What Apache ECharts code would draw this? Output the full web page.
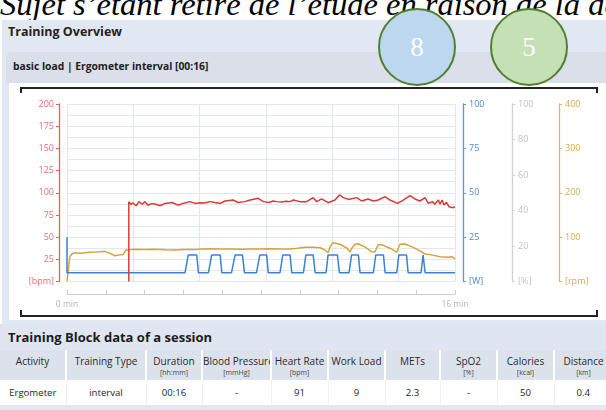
<!DOCTYPE html>
<html>
<head>
<meta charset="utf-8">
<script src="https://cdn.jsdelivr.net/npm/echarts@6/dist/echarts.min.js"></script>
<style>
  html, body { margin: 0; padding: 0; }
  body { width: 606px; height: 410px; overflow: hidden; position: relative; background: #ffffff; font-family: "Open Sans", "Noto Sans", sans-serif; color: #222; }
  .abs { position: absolute; }
  #caption { left: 0; top: -12px; font-family: "Liberation Serif", serif; font-style: italic; font-size: 32.5px; line-height: 32px; white-space: nowrap; color: #000; }
  #panel { left: 2px; top: 20px; width: 604px; height: 304px; background: #e2e8f3; }
  #panelTitle { left: 8px; top: 23px; font-size: 12.5px; font-weight: bold; color: #222; line-height: 18px; }
  #subPanel { left: 6px; top: 52px; width: 600px; height: 32px; background: #dadfe9; border-top-left-radius: 6px; }
  #subTitle { left: 13px; top: 59px; font-size: 10.3px; font-weight: bold; color: #222; line-height: 15px; }
  #chartBox { left: 9px; top: 83px; width: 597px; height: 237px; background: #ffffff; }
  .bracket { position: absolute; background: #222; }
  #chart { left: 0; top: 0; width: 606px; height: 410px; z-index: 3; pointer-events: none; }
  .circle { position: absolute; width: 78px; height: 78px; border-radius: 50%; border: 2px solid #4f7f31; box-sizing: border-box; color: #ffffff; font-family: "Liberation Serif", serif; font-size: 27px; display: flex; align-items: center; justify-content: center; z-index: 4; }
  #blockTitle { left: 0; top: 324px; width: 606px; height: 26px; background: #dfe6f1; }
  #blockTitle span { position: absolute; left: 8px; top: 4px; font-size: 13px; font-weight: bold; color: #1c1c1c; line-height: 18px; }
  #tbl { left: 0; top: 350px; border-collapse: collapse; table-layout: fixed; font-size: 10px; }
  #tbl td { padding: 0; text-align: center; white-space: nowrap; overflow: hidden; }
  #tbl tr.head td { background: #dce2ec; height: 30px; border-left: 2px solid #ffffff; vertical-align: top; color: #2a2a2a; }
  #tbl tr.head td:first-child { border-left: none; }
  #tbl tr.head .name { display: block; margin-top: 5px; line-height: 13px; }
  #tbl tr.head .unit { display: block; font-size: 7px; line-height: 10px; color: #444; }
  #tbl tr.data td { background: #ffffff; height: 25px; border-left: 1px solid #eef1f6; color: #1e1e1e; font-size: 9.6px; }
  #tbl tr.data td:first-child { border-left: none; }
  #bottomBand { left: 0; top: 405px; width: 606px; height: 5px; background: #e2e8f3; }
</style>
</head>
<body>
<div id="caption" class="abs">Sujet s’étant retiré de l’étude en raison de la de</div>
<div id="panel" class="abs"></div>
<div id="panelTitle" class="abs">Training Overview</div>
<div id="subPanel" class="abs"></div>
<div id="subTitle" class="abs">basic load | Ergometer interval [00:16]</div>
<div id="chartBox" class="abs">
  <div class="bracket" style="left:11px; top:4px; width:578px; height:2px;"></div>
  <div class="bracket" style="left:11px; top:4px; width:2px; height:6px;"></div>
  <div class="bracket" style="left:587px; top:4px; width:2px; height:6px;"></div>
  <div class="bracket" style="left:11px; top:232px; width:578px; height:2px;"></div>
  <div class="bracket" style="left:11px; top:227px; width:2px; height:6px;"></div>
  <div class="bracket" style="left:587px; top:227px; width:2px; height:6px;"></div>
</div>
<div id="chart" class="abs"></div>
<div class="circle" style="left:378px; top:8px; background:#bdd7ee;">8</div>
<div class="circle" style="left:490px; top:8px; background:#c5e0b4;">5</div>
<div id="blockTitle" class="abs"><span>Training Block data of a session</span></div>
<table id="tbl" class="abs"></table>
<div id="bottomBand" class="abs"></div>

<script>
// Session length on the time axis, in seconds (00:16)
const sessionSeconds = 960;

// Heart rate [bpm] as [second, value]
const heartRate = [
  [153, 0], [153, 90], [158, 87], [163, 88.5], [171, 85.4], [178, 90], [186, 87], [193, 90],
  [200, 86], [210, 87.7], [218, 87.3], [230, 85.4], [242, 88], [260, 89], [275, 86], [287, 88],
  [304, 90], [317, 88], [329, 88.8], [341, 88.5], [354, 90], [366, 89], [379, 88], [391, 90.7],
  [411, 91.8], [423, 89], [440, 90], [453, 91.8], [473, 93.7], [486, 90], [500, 89], [510, 90.7],
  [519, 90], [530, 89.5], [542, 90.5], [552, 90], [560, 91.8], [576, 90], [593, 90], [609, 94.5],
  [618, 90], [630, 93], [646, 88.8], [663, 91.8], [674, 97.5], [684, 94.5], [696, 92.5], [700, 91.8],
  [717, 94.5], [729, 90.7], [745, 93], [758, 90.7], [770, 91.8], [787, 95.6], [799, 91.8], [818, 88],
  [832, 91.8], [849, 96.7], [861, 93], [873, 90.7], [886, 94.5], [894, 88], [904, 90], [910, 87],
  [919, 91.8], [923, 87], [928, 91.8], [933, 86.2], [939, 89.2], [945, 84.3], [956, 83.2], [960, 84.3]
];

// Work load [W] as [second, value]
const workLoad = [
  [0, 25], [0, 5], [292, 5], [300, 15], [321, 15], [325, 5], [350, 5], [358, 15], [379, 15], [383, 5],
  [407, 5], [416, 15], [434, 15], [439, 5], [469, 5], [477, 15], [494, 15], [498, 5], [527, 5], [534, 15],
  [552, 15], [556, 5], [585, 5], [591, 15], [609, 15], [614, 5], [641, 5], [646, 15], [669, 15], [674, 5],
  [698, 5], [704, 15], [721, 15], [725, 5], [758, 5], [764, 15], [783, 15], [787, 5], [816, 5], [821, 15],
  [840, 15], [844, 5], [876, 5], [881, 15], [886, 5], [960, 5]
];

// Cadence [rpm] as [second, value]
const cadence = [
  [0, 0], [7, 56], [12, 62], [20, 65], [32, 63.5], [45, 65], [57, 66], [70, 66.5], [82, 67], [94, 68],
  [106, 63.5], [119, 58], [131, 60], [139, 61], [146, 71], [168, 72.5], [193, 72], [218, 72.5], [245, 71.5],
  [267, 71], [290, 72], [317, 72], [335, 73], [354, 74], [380, 73], [403, 73], [430, 72.5], [453, 73],
  [480, 73.5], [502, 74], [530, 73.5], [552, 73.5], [570, 75], [589, 77], [610, 77], [626, 76], [640, 70],
  [646, 65], [652, 80], [658, 87.5], [675, 84], [693, 75], [700, 67], [707, 78], [713, 84], [720, 85],
  [737, 78], [754, 67], [762, 66.5], [766, 75], [770, 82], [779, 83], [799, 75], [816, 66], [820, 76],
  [824, 84], [836, 84.5], [854, 78], [873, 69], [886, 62], [902, 60], [923, 56], [943, 54.5], [952, 56],
  [960, 51]
];

// Axis units shown in place of the zero label
const axisUnits = ['[bpm]', '[W]', '[%]', '[rpm]'];
const axisMax = [200, 100, 100, 400];
const axisStep = [25, 25, 20, 100];
const timeLabels = ['0 min', '16 min'];

// Session summary table
const tableColumns = ['Activity', 'Training Type', 'Duration', 'Blood Pressure', 'Heart Rate', 'Work Load', 'METs', 'SpO2', 'Calories', 'Distance'];
const tableUnits = ['', '', '[hh:mm]', '[mmHg]', '[bpm]', '', '', '[%]', '[kcal]', '[km]'];
const tableRow = ['Ergometer', 'interval', '00:16', '-', '91', '9', '2.3', '-', '50', '0.4'];
const columnWidths = [66, 80, 56, 69, 57, 57, 55, 57, 57, 58];

(function buildTable() {
  const tbl = document.getElementById('tbl');
  const colgroup = document.createElement('colgroup');
  let total = 0;
  columnWidths.forEach(w => {
    const c = document.createElement('col');
    c.style.width = w + 'px';
    colgroup.appendChild(c);
    total += w;
  });
  tbl.style.width = total + 'px';
  tbl.appendChild(colgroup);
  const head = document.createElement('tr');
  head.className = 'head';
  tableColumns.forEach((name, i) => {
    const td = document.createElement('td');
    const n = document.createElement('span');
    n.className = 'name';
    n.textContent = name;
    td.appendChild(n);
    if (tableUnits[i]) {
      const u = document.createElement('span');
      u.className = 'unit';
      u.textContent = tableUnits[i];
      td.appendChild(u);
    }
    head.appendChild(td);
  });
  tbl.appendChild(head);
  const row = document.createElement('tr');
  row.className = 'data';
  tableRow.forEach(v => {
    const td = document.createElement('td');
    td.textContent = v;
    row.appendChild(td);
  });
  tbl.appendChild(row);
})();

const RED = '#d93a33', RED_AXIS = '#e0625e', RED_LABEL = '#e3706b';
const BLUE = '#3a82d4', BLUE_AXIS = '#5a95d8', BLUE_LABEL = '#4d8ad0';
const GOLD = '#d3a43c', GOLD_AXIS = '#dcb862', GOLD_LABEL = '#d4aa50';
const GRAY_AXIS = '#d2d2d2', GRAY_LABEL = '#c2c2c2';
const GRID_LINE = '#e2e6ee';

function unitAxis(index, position, offset, lineColor, labelColor) {
  return {
    type: 'value',
    position: position,
    offset: offset,
    min: 0,
    max: axisMax[index],
    interval: axisStep[index],
    axisLine: { show: true, onZero: false, lineStyle: { color: lineColor, width: 1.3 } },
    axisTick: { show: true, length: 3, lineStyle: { color: lineColor } },
    axisLabel: {
      color: labelColor, fontSize: 9, margin: 6, fontFamily: 'Open Sans',
      formatter: v => (v === 0 ? axisUnits[index] : String(v))
    },
    splitLine: { show: false }
  };
}

const leftAxis = unitAxis(0, 'left', 8, RED_AXIS, RED_LABEL);
leftAxis.axisLabel.margin = 5;
leftAxis.splitLine = { show: true, lineStyle: { color: GRID_LINE, width: 1 } };
leftAxis.minorTick = { show: false, splitNumber: 2 };
leftAxis.minorSplitLine = { show: true, lineStyle: { color: GRID_LINE, width: 1 } };

const chart = echarts.init(document.getElementById('chart'), null, { renderer: 'canvas' });
chart.setOption({
  animation: false,
  backgroundColor: 'transparent',
  grid: { left: 67, top: 104, width: 388, height: 177.5, containLabel: false },
  xAxis: [
    {
      type: 'value', min: 0, max: sessionSeconds, interval: 164,
      axisLine: { show: false, onZero: false }, axisTick: { show: false }, axisLabel: { show: false },
      splitLine: { show: true, lineStyle: { color: GRID_LINE, width: 1 } }
    },
    {
      type: 'value', position: 'bottom', offset: 12.5, min: 0, max: sessionSeconds, interval: sessionSeconds / 10,
      axisLine: { show: true, onZero: false, lineStyle: { color: '#cdcdcd', width: 1 } },
      axisTick: { show: true, inside: true, length: 4, lineStyle: { color: '#cdcdcd' } },
      axisLabel: {
        color: '#b4b4b4', fontSize: 8.5, margin: 6, fontFamily: 'Open Sans',
        formatter: v => (v === 0 ? timeLabels[0] : (v === sessionSeconds ? timeLabels[1] : ''))
      },
      splitLine: { show: false }
    }
  ],
  yAxis: [
    leftAxis,
    unitAxis(1, 'right', 8, BLUE_AXIS, BLUE_LABEL),
    unitAxis(2, 'right', 57, GRAY_AXIS, GRAY_LABEL),
    unitAxis(3, 'right', 104, GOLD_AXIS, GOLD_LABEL)
  ],
  series: [
    { name: 'Cadence', type: 'line', yAxisIndex: 3, data: cadence, showSymbol: false, lineStyle: { color: GOLD, width: 1.5 }, z: 2 },
    { name: 'Work Load', type: 'line', yAxisIndex: 1, data: workLoad, showSymbol: false, lineStyle: { color: BLUE, width: 1.5 }, z: 3 },
    { name: 'Heart Rate', type: 'line', yAxisIndex: 0, data: heartRate, showSymbol: false, lineStyle: { color: RED, width: 1.5 }, z: 4 }
  ]
});
</script>
</body>
</html>
